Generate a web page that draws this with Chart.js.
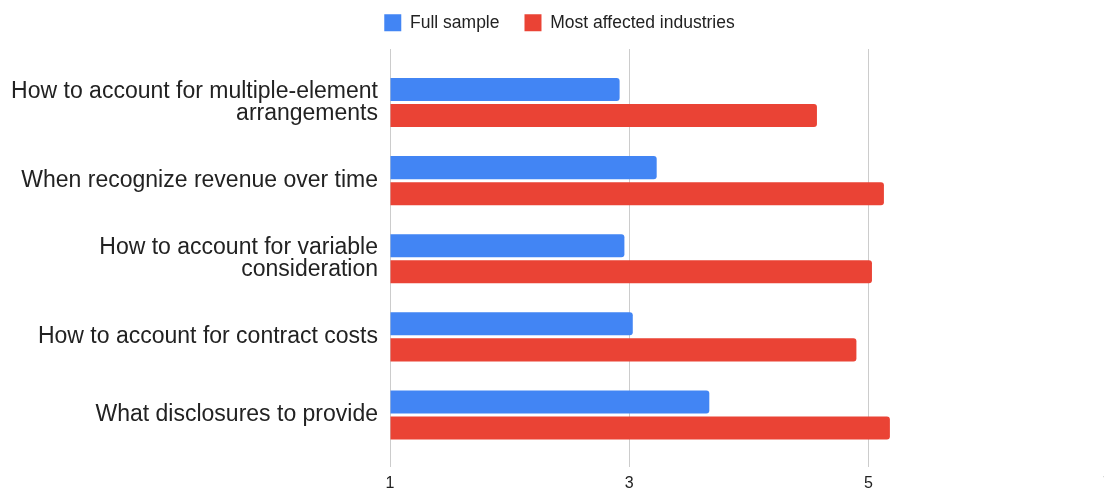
<!DOCTYPE html>
<html>
<head>
<meta charset="utf-8">
<script src="https://cdn.jsdelivr.net/npm/chart.js@4.4.1/dist/chart.umd.min.js"></script>
<style>
  html, body { margin: 0; padding: 0; overflow: hidden; background: #ffffff; }
  #wrap { position: relative; width: 1119px; height: 490px; }
</style>
</head>
<body>
<div id="wrap"><canvas id="c"></canvas></div>
<script>
const categories = [
  ["How to account for multiple-element", "arrangements"],
  "When recognize revenue over time",
  ["How to account for variable", "consideration"],
  "How to account for contract costs",
  "What disclosures to provide"
];
const seriesNames = ["Full sample", "Most affected industries"];
const fullSample = [2.92, 3.23, 2.96, 3.03, 3.67];
const mostAffected = [4.57, 5.13, 5.03, 4.90, 5.18];
const axisMin = 1;
const axisMax = 7;
const axisStep = 2;

const FONT = "Arial, 'Liberation Sans', sans-serif";
const GRID = "#cccccc";
const TEXT = "#222222";

new Chart(document.getElementById("c"), {
  type: "bar",
  data: {
    labels: categories,
    datasets: [
      {
        label: seriesNames[0],
        data: fullSample,
        backgroundColor: "#4285F4",
        borderRadius: 3,
        borderSkipped: "start",
        base: axisMin,
        categoryPercentage: 0.667,
        barPercentage: 0.885
      },
      {
        label: seriesNames[1],
        data: mostAffected,
        backgroundColor: "#EA4335",
        borderRadius: 3,
        borderSkipped: "start",
        base: axisMin,
        categoryPercentage: 0.667,
        barPercentage: 0.885
      }
    ]
  },
  options: {
    indexAxis: "y",
    responsive: true,
    maintainAspectRatio: false,
    animation: false,
    layout: { padding: { top: -11, left: 0, right: 0, bottom: 0 } },
    plugins: {
      tooltip: { enabled: false },
      legend: {
        position: "top",
        align: "center",
        labels: {
          boxWidth: 17,
          boxHeight: 17,
          padding: 25,
          color: TEXT,
          font: { family: FONT, size: 17.5 }
        }
      }
    },
    scales: {
      x: {
        type: "linear",
        position: "bottom",
        min: axisMin,
        max: axisMax,
        border: { display: false },
        grid: { color: GRID, lineWidth: 1, drawTicks: true, tickLength: 13, tickColor: GRID },
        ticks: {
          stepSize: axisStep,
          padding: 7,
          color: TEXT,
          font: { family: FONT, size: 16 },
          maxRotation: 0
        },
        afterFit: (s) => { s.height = 36; }
      },
      x2: {
        type: "linear",
        position: "top",
        min: axisMin,
        max: axisMax,
        border: { display: false },
        grid: { color: GRID, drawOnChartArea: false, drawTicks: true, tickLength: 14.5, tickColor: GRID },
        ticks: { stepSize: axisStep, display: false },
        afterFit: (s) => { s.height = 22; }
      },
      y: {
        type: "category",
        border: { display: false },
        grid: { display: false, drawTicks: false },
        ticks: {
          padding: 12,
          color: TEXT,
          font: { family: FONT, size: 23, lineHeight: "22px" },
          autoSkip: false
        },
        afterFit: (s) => { s.width = 390; }
      }
    }
  }
});
</script>
</body>
</html>
